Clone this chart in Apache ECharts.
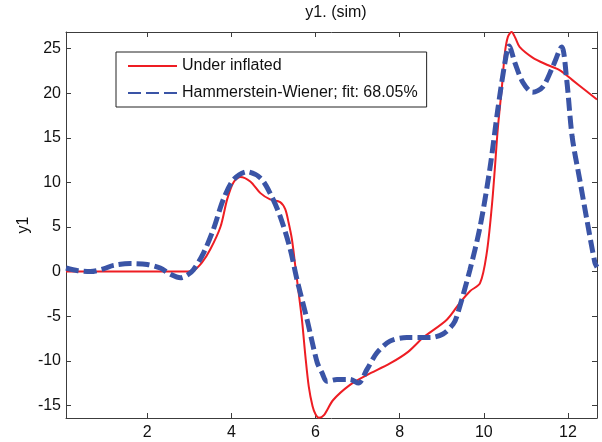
<!DOCTYPE html>
<html>
<head>
<meta charset="utf-8">
<script src="https://cdn.jsdelivr.net/npm/echarts@6/dist/echarts.min.js"></script>
<style>
  html, body { margin: 0; padding: 0; background: #fff; }
  #chart { width: 602px; height: 442px; }
</style>
</head>
<body>
<div id="chart"></div>
<script>
// measured output (Under inflated)
const tRed = [0.07, 1, 2, 2.9, 3.09, 3.3, 3.5, 3.74, 3.9, 4.05, 4.21, 4.45, 4.69, 4.92, 5.16, 5.28, 5.36, 5.44, 5.52, 5.6, 5.68, 5.76, 5.84, 5.93, 6.0, 6.08, 6.2, 6.42, 6.82, 7.22, 7.77, 8.2, 8.56, 9.12, 9.43, 9.67, 9.91, 10.07, 10.19, 10.26, 10.33, 10.43, 10.5, 10.57, 10.66, 10.75, 10.85, 11.16, 11.5, 11.8, 12.1, 12.45, 12.69];
const vRed = [0, 0, 0, 0, 0.1, 1.0, 2.5, 5.0, 8.1, 10.0, 10.6, 10.1, 8.8, 8.1, 7.8, 7.0, 5.5, 3.6, 0.6, -2.4, -5.5, -9.5, -12.9, -15.1, -16.0, -16.4, -16.1, -14.4, -12.7, -11.6, -10.3, -9.0, -7.4, -5.4, -3.5, -2.2, -1.3, 2.1, 7.3, 11.4, 15.9, 20.7, 24.5, 26.3, 26.87, 26.2, 25.2, 24.0, 23.2, 22.6, 21.5, 20.2, 19.3];

// simulated output (Hammerstein-Wiener model)
const tBlue = [0.07, 0.35, 0.65, 0.96, 1.2, 1.6, 2.0, 2.31, 2.55, 2.79, 2.95, 3.1, 3.34, 3.57, 3.81, 4.05, 4.37, 4.69, 4.92, 5.16, 5.4, 5.56, 5.8, 6.04, 6.15, 6.27, 6.51, 6.82, 7.02, 7.22, 7.46, 7.77, 8.17, 8.72, 9.03, 9.27, 9.36, 9.67, 9.91, 10.14, 10.33, 10.5, 10.6, 10.74, 10.93, 11.16, 11.4, 11.64, 11.85, 11.97, 12.1, 12.28, 12.45, 12.64, 12.69];
const vBlue = [0.4, 0.1, 0.0, 0.3, 0.7, 0.9, 0.8, 0.4, -0.3, -0.7, -0.4, 0.2, 2.1, 4.7, 8.1, 10.3, 11.2, 10.5, 8.8, 6.2, 2.5, -0.9, -5.4, -10.2, -11.3, -12.3, -12.1, -12.1, -12.5, -11.0, -9.1, -7.8, -7.4, -7.4, -7.0, -5.9, -5.0, 0.2, 5.0, 11.4, 18.1, 23.4, 25.3, 23.4, 21.2, 20.1, 20.7, 23.0, 25.2, 21.5, 15.1, 10.3, 5.8, 1.0, 0.5];

const xTicks = [2, 4, 6, 8, 10, 12];
const yTicks = [-15, -10, -5, 0, 5, 10, 15, 20, 25];

const xMin = 0.07, xMax = 12.69;
const yMin = -16.42, yMax = 26.87;

const seriesNames = ['Under inflated', 'Hammerstein-Wiener; fit: 68.05%'];

const FONT = 'Liberation Sans, Arial, sans-serif';
const axisColor = '#3c3c3c';

function pairs(ts, vs) {
    return ts.map((t, i) => [t, vs[i]]);
}

function boxAxis(extra) {
    return Object.assign({
        type: 'value',
        axisLine: { show: true, onZero: false, lineStyle: { color: axisColor, width: 1 } },
        axisTick: { show: true, inside: true, length: 5, lineStyle: { color: axisColor } },
        splitLine: { show: false },
        axisLabel: { show: false }
    }, extra);
}

const chart = echarts.init(document.getElementById('chart'), null, { renderer: 'canvas' });

chart.setOption({
    animation: false,
    backgroundColor: '#fff',
    title: {
        text: 'y1. (sim)',
        left: 331,
        top: 0,
        textAlign: 'center',
        textStyle: { fontFamily: FONT, fontSize: 16, fontWeight: 'normal', color: '#111' }
    },
    grid: { left: 66, right: 5, top: 32, bottom: 24, containLabel: false },
    legend: {
        orient: 'vertical',
        left: 116,
        top: 52,
        padding: [6, 9, 6, 11],
        itemWidth: 49,
        itemHeight: 14,
        itemGap: 11,
        // line only, hide the marker drawn on the legend line
        itemStyle: { opacity: 0 },
        borderColor: '#222',
        borderWidth: 1,
        backgroundColor: '#fff',
        textStyle: { fontFamily: FONT, fontSize: 16, color: '#111' },
        data: seriesNames
    },
    xAxis: [
        boxAxis({
            min: xMin, max: xMax,
            position: 'bottom',
            axisTick: { show: true, inside: true, length: 5, customValues: xTicks, lineStyle: { color: axisColor } },
            axisLabel: { show: true, customValues: xTicks, margin: 7, fontFamily: FONT, fontSize: 16, color: '#111' }
        }),
        boxAxis({
            min: xMin, max: xMax,
            position: 'top',
            axisTick: { show: true, inside: true, length: 5, customValues: xTicks, lineStyle: { color: axisColor } }
        })
    ],
    yAxis: [
        boxAxis({
            min: yMin, max: yMax,
            position: 'left',
            name: 'y1',
            nameLocation: 'middle',
            nameGap: 34,
            nameMoveOverlap: false,
            nameTextStyle: { fontFamily: FONT, fontSize: 16, color: '#111' },
            axisTick: { show: true, inside: true, length: 5, customValues: yTicks, lineStyle: { color: axisColor } },
            axisLabel: { show: true, customValues: yTicks, margin: 5, fontFamily: FONT, fontSize: 16, color: '#111' }
        }),
        boxAxis({
            min: yMin, max: yMax,
            position: 'right',
            axisTick: { show: true, inside: true, length: 5, customValues: yTicks, lineStyle: { color: axisColor } }
        })
    ],
    series: [
        {
            name: seriesNames[0],
            type: 'line',
            data: pairs(tRed, vRed),
            smooth: 0.3,
            symbol: 'none',
            clip: true,
            lineStyle: { color: '#ee1d23', width: 2 },
            itemStyle: { color: '#ee1d23' },
            z: 2
        },
        {
            name: seriesNames[1],
            type: 'line',
            data: pairs(tBlue, vBlue),
            smooth: 0.3,
            symbol: 'none',
            clip: true,
            lineStyle: { color: '#3a54a6', width: 5, type: [13, 5] },
            itemStyle: { color: '#3a54a6' },
            z: 3
        }
    ]
});
</script>
</body>
</html>
